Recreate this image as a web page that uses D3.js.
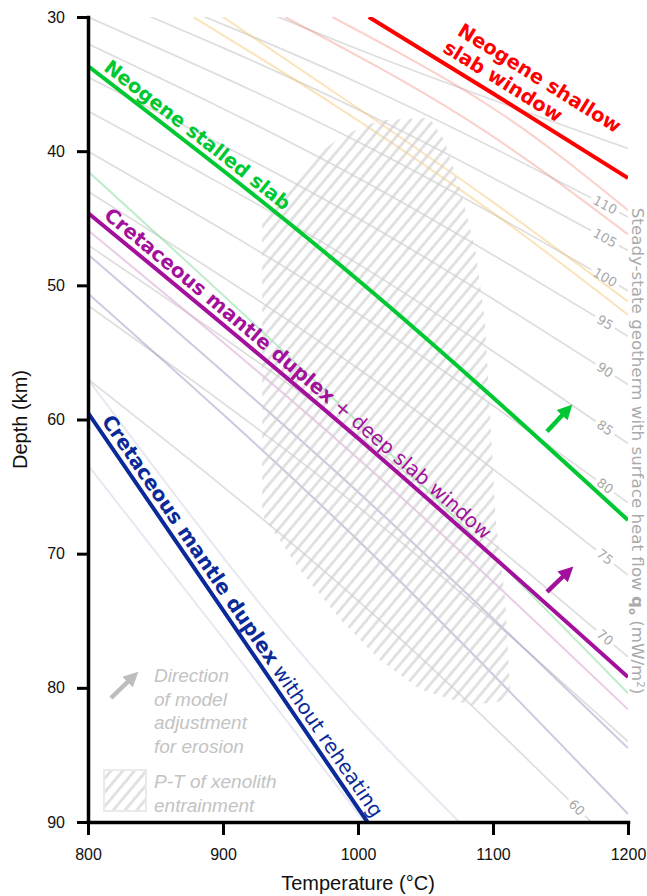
<!DOCTYPE html>
<html>
<head>
<meta charset="utf-8">
<script src="https://cdn.jsdelivr.net/npm/d3@7"></script>
<style>
  body { margin: 0; background: #fff; }
  svg { display: block; }
</style>
</head>
<body>
<svg id="chart" width="647" height="896"></svg>
<script>
// ---- data (temperature in °C, depth in km) ----
const tempTicks = [800, 900, 1000, 1100, 1200];
const depthTicks = [30, 40, 50, 60, 70, 80, 90];

// steady-state geotherms, surface heat flow q0 (mW/m2), depth at 800 / 1000 / 1200 °C
const geothermQ     = [60,   65,   70,   75,   80,   85,   90,   95,   100,  105,  110,  120];
const geothermZ800  = [57.0, 51.5, 47.0, 43.0, 40.0, 37.0, 34.5, 32.0, 30.0, 28.0, 26.5, 24.0];
const geothermZ1000 = [73.5, 66.5, 61.2, 56.2, 52.1, 48.4, 45.0, 42.0, 39.3, 36.9, 34.9, 32.4];
const geothermZ1200 = [92.7, 84.0, 77.7, 71.6, 66.2, 61.8, 57.4, 53.8, 50.4, 47.4, 44.9, 39.8];
const labelledQ = [60, 70, 75, 80, 85, 90, 95, 100, 105, 110];

// model geotherms
const shallowWindowT  = [1008, 1100, 1200];
const shallowWindowZ  = [30.0, 35.7, 42.0];
const stalledSlabT    = [800, 1000, 1200];
const stalledSlabZ    = [33.65, 49.6, 67.5];
const reheatedDuplexT = [800, 1000, 1200];
const reheatedDuplexZ = [44.6, 61.4, 79.2];
const coldDuplexT     = [800, 900, 1007];
const coldDuplexZ     = [59.5, 74.2, 90.0];

// faint model variants
const shallowVariants = [
  [[981, 30], [1100, 36.8], [1200, 44.4]],
  [[946, 30], [1080, 37.6], [1200, 46.2]]
];
const warmVariants = [
  [[878, 30], [980, 36.4], [1100, 44.6], [1200, 52.2]],
  [[900, 30], [1000, 36.8], [1100, 43.8], [1200, 51.2]]
];
const stalledVariants = [
  [[800, 41.5], [1000, 60.2], [1200, 80.4]]
];
const reheatedVariants = [
  [[800, 45.9], [1000, 62.9], [1200, 81.6]]
];
const duplexVariants = [
  [[800, 47.7], [1000, 65.4], [1200, 84.5]],
  [[800, 50.6], [1000, 69.0], [1200, 89.4]]
];
const coldVariants = [
  [[800, 63.4], [900, 76.3], [1005, 90]],
  [[800, 57.0], [950, 76.5], [1075, 90]]
];

// P-T of xenolith entrainment (outline)
const xenolithT = [929, 946, 964, 990, 1016, 1053, 1064, 1076, 1087, 1094, 1098, 1102, 1109, 1113, 1083, 1046, 1016, 987, 957, 929];
const xenolithZ = [44.8, 42.9, 40.6, 38.8, 37.7, 37.5, 39.2, 42.9, 47.4, 52.6, 60.0, 67.5, 73.4, 80.9, 81.3, 80.1, 77.9, 74.9, 71.2, 67.1];

// erosion adjustment arrows [start, tip]
const stalledArrow  = [[1140, 60.9], [1158.5, 58.9]];
const reheatedArrow = [[1140, 72.85], [1159.3, 70.98]];

// ---- setup ----
const W = 647, H = 896;
const margin = {top: 17, right: 19, bottom: 74, left: 88};
const AXIS_FONT = '"Liberation Sans", Arial, sans-serif';
const LABEL_FONT = '"DejaVu Sans", sans-serif';

const svg = d3.select('#chart');
const x = d3.scaleLinear().domain([800, 1200]).range([margin.left, W - margin.right]);
const y = d3.scaleLinear().domain([30, 90]).range([margin.top, H - margin.bottom]);
const line = d3.line().x(d => x(d[0])).y(d => y(d[1])).curve(d3.curveNatural);
const zip = (ts, zs) => ts.map((t, i) => [t, zs[i]]);

const defs = svg.append('defs');
defs.append('clipPath').attr('id', 'plotClip').append('rect')
  .attr('x', x(800)).attr('y', y(30))
  .attr('width', x(1200) - x(800)).attr('height', y(90) - y(30));

const hatch = defs.append('pattern')
  .attr('id', 'hatch')
  .attr('patternUnits', 'userSpaceOnUse')
  .attr('width', 9).attr('height', 9)
  .attr('patternTransform', 'rotate(40)');
hatch.append('line')
  .attr('x1', 4.5).attr('y1', -1).attr('x2', 4.5).attr('y2', 10)
  .attr('stroke', '#cfcfcf').attr('stroke-width', 2.6);

function addMarker(id, color) {
  defs.append('marker')
    .attr('id', id)
    .attr('viewBox', '0 -5 10 10')
    .attr('refX', 3).attr('refY', 0)
    .attr('markerWidth', 15).attr('markerHeight', 15)
    .attr('markerUnits', 'userSpaceOnUse')
    .attr('orient', 'auto')
    .append('path').attr('d', 'M0,-5L10,0L0,5Z').attr('fill', color);
}
addMarker('arrGreen', '#00c832');
addMarker('arrPurple', '#a3109b');
addMarker('arrGray', '#bdbdbd');

function pointAtX(node, px) {
  let lo = 0, hi = node.getTotalLength();
  for (let k = 0; k < 32; k++) {
    const mid = (lo + hi) / 2;
    if (node.getPointAtLength(mid).x < px) lo = mid; else hi = mid;
  }
  return lo;
}

const plot = svg.append('g').attr('clip-path', 'url(#plotClip)');

// ---- steady-state geotherms ----
const geotherms = geothermQ.map((q, i) => ({
  q, pts: [[800, geothermZ800[i]], [1000, geothermZ1000[i]], [1200, geothermZ1200[i]]]
}));
const mask = defs.append('mask').attr('id', 'labelGaps')
  .attr('maskUnits', 'userSpaceOnUse')
  .attr('x', 0).attr('y', 0).attr('width', W).attr('height', H);
mask.append('rect').attr('width', W).attr('height', H).attr('fill', '#fff');

const geoG = plot.append('g').attr('mask', 'url(#labelGaps)');
const geoPaths = geoG.selectAll('path')
  .data(geotherms)
  .join('path')
  .attr('d', d => line(d.pts))
  .attr('fill', 'none')
  .attr('stroke', '#dedede')
  .attr('stroke-width', 1.7);

const geoLabelG = svg.append('g');
geoPaths.each(function(d) {
  if (!labelledQ.includes(d.q)) return;
  const px = d.q === 60 ? x(1162) : x(1183);
  const len = pointAtX(this, px);
  const p = this.getPointAtLength(len);
  const a = this.getPointAtLength(Math.max(0, len - 6));
  const b = this.getPointAtLength(len + 6);
  const ang = Math.atan2(b.y - a.y, b.x - a.x) * 180 / Math.PI;
  const txt = String(d.q);
  const w = txt.length * 8.5 + 6;
  mask.append('rect')
    .attr('x', p.x - w / 2).attr('y', p.y - 8)
    .attr('width', w).attr('height', 16)
    .attr('transform', `rotate(${ang},${p.x},${p.y})`)
    .attr('fill', '#000');
  geoLabelG.append('text')
    .attr('x', p.x).attr('y', p.y)
    .attr('transform', `rotate(${ang},${p.x},${p.y})`)
    .attr('text-anchor', 'middle')
    .attr('dominant-baseline', 'central')
    .attr('font-family', LABEL_FONT)
    .attr('font-size', 13)
    .attr('fill', '#a8a8a8')
    .text(txt);
});

// ---- faint model variants ----
const variantSets = [
  {lines: shallowVariants, color: '#f08a80', op: 0.4},
  {lines: warmVariants, color: '#f7c46a', op: 0.45},
  {lines: stalledVariants, color: '#7fdc98', op: 0.5},
  {lines: reheatedVariants, color: '#d9a3d3', op: 0.55},
  {lines: duplexVariants, color: '#9b93c2', op: 0.5},
  {lines: coldVariants, color: '#c9cde0', op: 0.45}
];
variantSets.forEach(s => {
  plot.append('g').selectAll('path')
    .data(s.lines)
    .join('path')
    .attr('d', line)
    .attr('fill', 'none')
    .attr('stroke', s.color)
    .attr('stroke-opacity', s.op)
    .attr('stroke-width', 2);
});

// ---- xenolith entrainment region ----
plot.append('path')
  .attr('d', d3.line().x(d => x(d[0])).y(d => y(d[1]))(zip(xenolithT, xenolithZ)) + 'Z')
  .attr('fill', 'url(#hatch)')
  .attr('opacity', 0.7);

// ---- model geotherms ----
const models = [
  {id: 'shallowWindow', color: '#ff0000', pts: zip(shallowWindowT, shallowWindowZ)},
  {id: 'stalledSlab', color: '#00c832', pts: zip(stalledSlabT, stalledSlabZ)},
  {id: 'reheatedDuplex', color: '#a3109b', pts: zip(reheatedDuplexT, reheatedDuplexZ)},
  {id: 'coldDuplex', color: '#0b2a99', pts: zip(coldDuplexT, coldDuplexZ)}
];
plot.append('g').selectAll('path')
  .data(models)
  .join('path')
  .attr('id', d => d.id)
  .attr('d', d => line(d.pts))
  .attr('fill', 'none')
  .attr('stroke', d => d.color)
  .attr('stroke-width', 4);

const labelG = svg.append('g');
function curveLabel(pathId, parts, color, startX, dy, targetLen) {
  const node = document.getElementById(pathId);
  const t = labelG.append('text')
    .attr('fill', color)
    .attr('font-family', LABEL_FONT)
    .attr('font-size', 17);
  const tp = t.append('textPath')
    .attr('href', '#' + pathId)
    .attr('startOffset', pointAtX(node, startX));
  parts.forEach((p, i) => {
    const s = tp.append('tspan')
      .attr('font-weight', p.bold ? 700 : 400)
      .text(p.text);
    if (i === 0) s.attr('dy', dy);
  });
  const len = t.node().getComputedTextLength();
  t.attr('font-size', 17 * targetLen / len);
}
curveLabel('stalledSlab', [{text: 'Neogene stalled slab', bold: true}], '#00c832', 99, -6, 230);
curveLabel('reheatedDuplex', [
  {text: 'Cretaceous mantle duplex', bold: true},
  {text: ' + deep slab window', bold: false}
], '#a3109b', 99, -6, 500);
curveLabel('coldDuplex', [
  {text: 'Cretaceous mantle duplex', bold: true},
  {text: ' without reheating', bold: false}
], '#0b2a99', 96, -6, 482);
curveLabel('shallowWindow', [{text: 'Neogene shallow', bold: true}], '#ff0000', 440, -31, 188);
curveLabel('shallowWindow', [{text: 'slab window', bold: true}], '#ff0000', 437, -9, 136);

// ---- erosion arrows ----
function arrow(pts, marker, color, proj) {
  const p0 = proj(pts[0]), p1 = proj(pts[1]);
  const dx = p1[0] - p0[0], dy = p1[1] - p0[1];
  const L = Math.hypot(dx, dy);
  const e = [p1[0] - dx / L * 10, p1[1] - dy / L * 10];
  svg.append('line')
    .attr('x1', p0[0]).attr('y1', p0[1])
    .attr('x2', e[0]).attr('y2', e[1])
    .attr('stroke', color).attr('stroke-width', 4.5)
    .attr('marker-end', `url(#${marker})`);
}
const dataProj = d => [x(d[0]), y(d[1])];
arrow(stalledArrow, 'arrGreen', '#00c832', dataProj);
arrow(reheatedArrow, 'arrPurple', '#a3109b', dataProj);

// ---- legend ----
const legend = svg.append('g');
arrow([[111, 698], [138, 672]], 'arrGray', '#bdbdbd', d => d);
const legendFont = {family: '"Liberation Sans", Arial, sans-serif', size: 19, color: '#c3c3c3'};
['Direction', 'of model', 'adjustment', 'for erosion'].forEach((s, i) => {
  legend.append('text')
    .attr('x', 154).attr('y', 682 + i * 23.5)
    .attr('font-family', legendFont.family).attr('font-style', 'italic')
    .attr('font-size', legendFont.size).attr('fill', legendFont.color)
    .text(s);
});
legend.append('rect')
  .attr('x', 104).attr('y', 770).attr('width', 42).attr('height', 41)
  .attr('fill', 'url(#hatch)').attr('opacity', 0.7)
  .attr('stroke', '#e2e2e2').attr('stroke-width', 2);
['P-T of xenolith', 'entrainment'].forEach((s, i) => {
  legend.append('text')
    .attr('x', 154).attr('y', 788 + i * 23.5)
    .attr('font-family', legendFont.family).attr('font-style', 'italic')
    .attr('font-size', legendFont.size).attr('fill', legendFont.color)
    .text(s);
});

// ---- right-hand title ----
const rt = svg.append('text')
  .attr('transform', 'translate(632,451) rotate(90)')
  .attr('text-anchor', 'middle')
  .attr('font-family', LABEL_FONT)
  .attr('font-size', 15)
  .attr('fill', '#ababab');
rt.append('tspan').text('Steady-state geotherm with surface heat flow ');
rt.append('tspan').attr('font-weight', 700).text('q');
rt.append('tspan').attr('font-size', '0.6em').attr('font-weight', 700).attr('dy', 3).text('o');
rt.append('tspan').attr('dy', -3).text(' (mW/m');
rt.append('tspan').attr('font-size', '0.6em').attr('dy', -5).text('2');
rt.append('tspan').attr('dy', 5).text(')');
const rtLen = rt.node().getComputedTextLength();
rt.attr('font-size', 15 * 487 / rtLen);

// ---- axes ----
const yAxis = svg.append('g')
  .attr('transform', `translate(${margin.left},0)`)
  .call(d3.axisLeft(y).tickValues(depthTicks).tickSize(11).tickSizeOuter(0).tickPadding(12));
const xAxis = svg.append('g')
  .attr('transform', `translate(0,${y(90)})`)
  .call(d3.axisBottom(x).tickValues(tempTicks).tickFormat(d3.format('d'))
    .tickSize(13).tickSizeOuter(0).tickPadding(14));
[yAxis, xAxis].forEach(ax => {
  ax.select('.domain').attr('stroke', '#000').attr('stroke-width', 3.5).attr('stroke-linecap', 'square');
  ax.selectAll('.tick line').attr('stroke', '#000').attr('stroke-width', 3);
  ax.selectAll('.tick text')
    .attr('font-family', AXIS_FONT).attr('font-size', 16).attr('fill', '#111');
});

svg.append('text')
  .attr('x', x(1000)).attr('y', 890)
  .attr('text-anchor', 'middle')
  .attr('font-family', AXIS_FONT).attr('font-size', 20).attr('fill', '#111')
  .text('Temperature (°C)');
svg.append('text')
  .attr('transform', `translate(27,${y(60)}) rotate(-90)`)
  .attr('text-anchor', 'middle')
  .attr('font-family', AXIS_FONT).attr('font-size', 20).attr('fill', '#111')
  .text('Depth (km)');
</script>
</body>
</html>
